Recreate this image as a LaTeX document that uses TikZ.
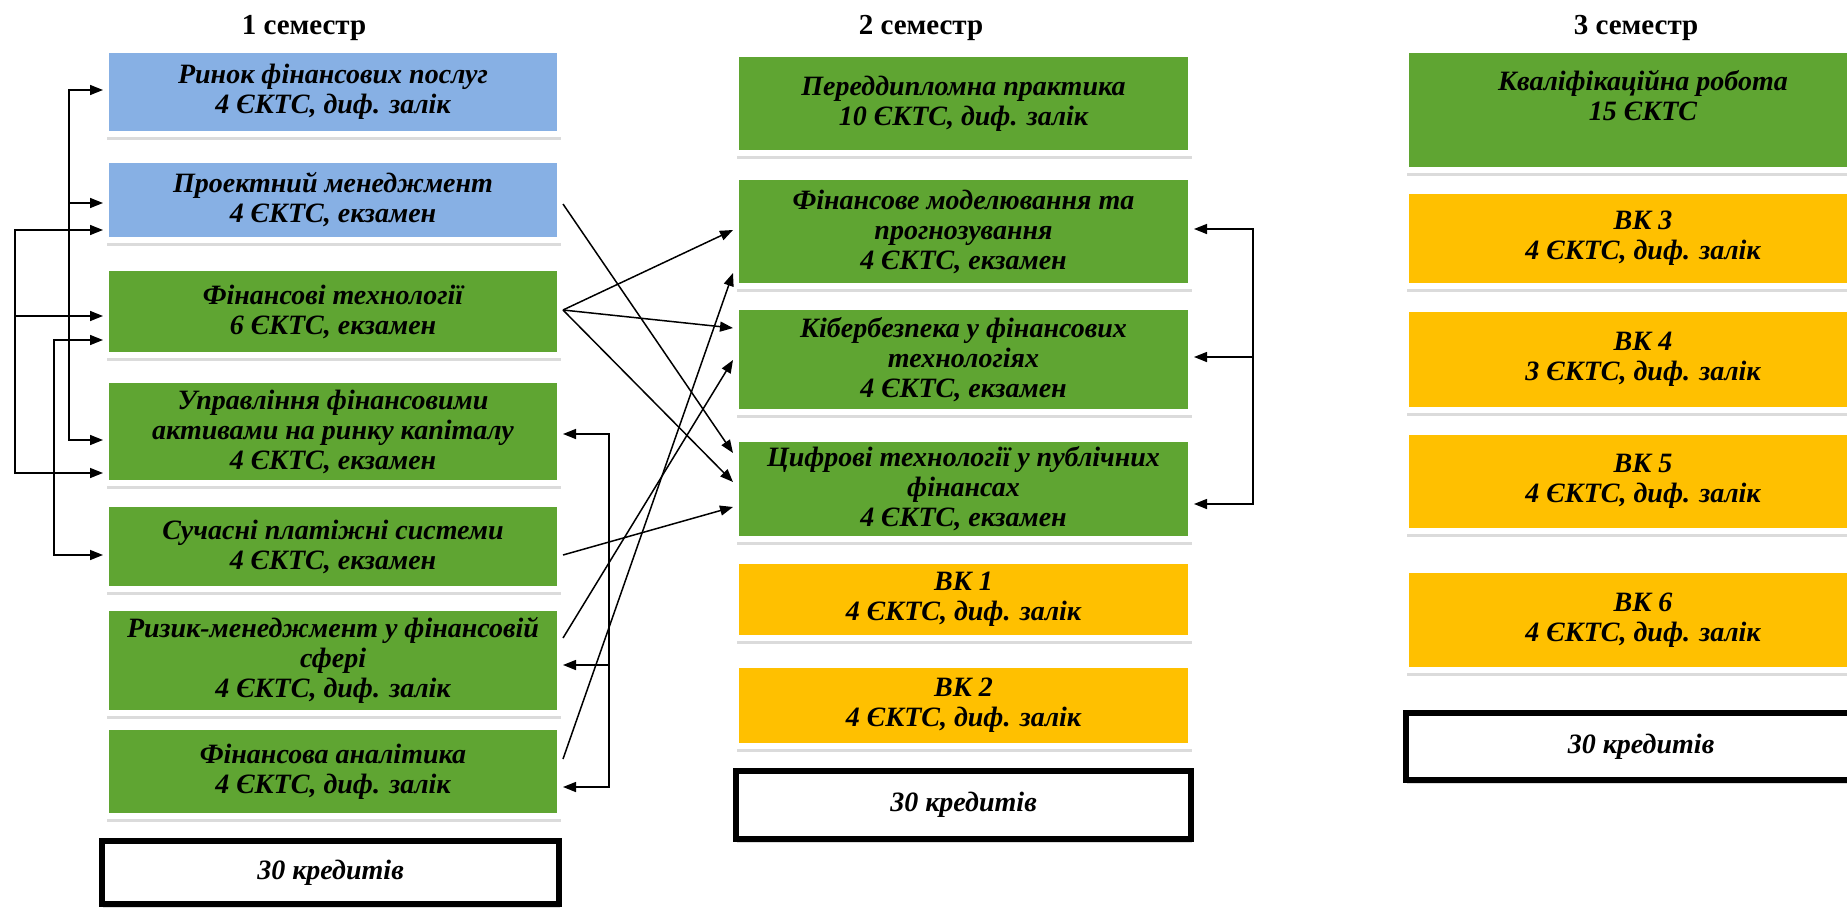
\documentclass[tikz,border=0pt]{standalone}
\usepackage{fontspec}
\setmainfont{Liberation Serif}
\usetikzlibrary{arrows.meta,shadows,calc}
\definecolor{cblue}{RGB}{135,176,228}
\definecolor{cgreen}{RGB}{95,165,50}
\definecolor{cgold}{RGB}{255,192,0}
\begin{document}
\begin{tikzpicture}[x=1pt,y=-1pt,
  txt/.style={font=\fontsize{28}{30}\selectfont\bfseries\itshape},
  bx/.style n args={2}{txt, draw=white, line width=6pt, inner sep=0pt, align=center,
    minimum width=#1+6, minimum height=#2+6,
    drop shadow={shadow xshift=1pt, shadow yshift=-6pt, fill=black!40, opacity=0.35}},
  cred/.style n args={2}{txt, draw=black, fill=white, line width=6pt, inner sep=0pt, align=center,
    minimum width=#1-6, minimum height=#2-6,
    drop shadow={shadow xshift=1pt, shadow yshift=-4pt, fill=black!40, opacity=0.35}},
  title/.style={font=\fontsize{29}{30}\selectfont\bfseries},
  arr/.style={line width=1.5pt, -{Triangle[length=13pt,width=10pt]}},
  arrs/.style={line width=1.5pt, {Triangle[length=13pt,width=10pt]}-{Triangle[length=13pt,width=10pt]}}
]
\useasboundingbox (0,0) rectangle (1847,910);
\begin{scope}
\clip (0,0) rectangle (1847,910);
\fill[white] (0,0) rectangle (1847,910);

% titles
\node[title] (T1) at (304,28) {1 семестр};
\node[title] (T2) at (921,28) {2 семестр};
\node[title] (T3) at (1636,28) {3 семестр};

% column 1
\node[bx={448}{78}, fill=cblue] (A1) at (333,92) {Ринок фінансових послуг\\4 ЄКТС, диф. залік};
\node[bx={448}{74}, fill=cblue] (A2) at (333,200) {Проектний менеджмент\\4 ЄКТС, екзамен};
\node[bx={448}{81}, fill=cgreen] (A3) at (333,311.5) {Фінансові технології\\6 ЄКТС, екзамен};
\node[bx={448}{97}, fill=cgreen] (A4) at (333,431.5) {Управління фінансовими\\активами на ринку капіталу\\4 ЄКТС, екзамен};
\node[bx={448}{79}, fill=cgreen] (A5) at (333,546.5) {Сучасні платіжні системи\\4 ЄКТС, екзамен};
\node[bx={448}{99}, fill=cgreen] (A6) at (333,660.5) {Ризик-менеджмент у фінансовій\\сфері\\4 ЄКТС, диф. залік};
\node[bx={448}{83}, fill=cgreen] (A7) at (333,771.5) {Фінансова аналітика\\4 ЄКТС, диф. залік};
\node[cred={463}{69}] (K1) at (330.5,872.5) {30 кредитів};

% column 2
\node[bx={449}{93}, fill=cgreen] (B1) at (963.5,103.5) {Переддипломна практика\\10 ЄКТС, диф. залік};
\node[bx={449}{103}, fill=cgreen] (B2) at (963.5,231.5) {Фінансове моделювання та\\прогнозування\\4 ЄКТС, екзамен};
\node[bx={449}{99}, fill=cgreen] (B3) at (963.5,359.5) {Кібербезпека у фінансових\\технологіях\\4 ЄКТС, екзамен};
\node[bx={449}{94}, fill=cgreen] (B4) at (963.5,489) {Цифрові технології у публічних\\фінансах\\4 ЄКТС, екзамен};
\node[bx={449}{71}, fill=cgold] (B5) at (963.5,599.5) {ВК 1\\4 ЄКТС, диф. залік};
\node[bx={449}{75}, fill=cgold] (B6) at (963.5,705.5) {ВК 2\\4 ЄКТС, диф. залік};
\node[cred={461}{74}] (K2) at (963.5,805) {30 кредитів};

% column 3
\node[bx={468}{114}, fill=cgreen] (C1) at (1643,110) {Кваліфікаційна робота\\15 ЄКТС\\\mbox{}};
\node[bx={468}{89}, fill=cgold] (C2) at (1643,238.5) {ВК 3\\4 ЄКТС, диф. залік};
\node[bx={468}{95}, fill=cgold] (C3) at (1643,359.5) {ВК 4\\3 ЄКТС, диф. залік};
\node[bx={468}{93}, fill=cgold] (C4) at (1643,481.5) {ВК 5\\4 ЄКТС, диф. залік};
\node[bx={468}{94}, fill=cgold] (C5) at (1643,620) {ВК 6\\4 ЄКТС, диф. залік};
\node[cred={476}{73}] (K3) at (1641,746.5) {30 кредитів};

% left brackets of column 1
\coordinate (L1t) at (69,90);
\coordinate (L1m) at (69,203);
\coordinate (L1b) at (69,440);
\draw[arrs] (A1.west |- L1t) -- (L1t) -- (L1b) -- (A4.west |- L1b);
\draw[arr] (L1m) -- (A2.west |- L1m);

\coordinate (L2t) at (15,230);
\coordinate (L2m) at (15,316);
\coordinate (L2b) at (15,473);
\draw[arrs] (A2.west |- L2t) -- (L2t) -- (L2b) -- (A4.west |- L2b);
\draw[arr] (L2m) -- (A3.west |- L2m);

\coordinate (L3t) at (54,340);
\coordinate (L3b) at (54,555);
\draw[arrs] (A3.west |- L3t) -- (L3t) -- (L3b) -- (A5.west |- L3b);

% right bracket of column 1
\coordinate (R1t) at (609,434);
\coordinate (R1m) at (609,665);
\coordinate (R1b) at (609,787);
\draw[arrs] (A4.east |- R1t) -- (R1t) -- (R1b) -- (A7.east |- R1b);
\draw[arr] (R1m) -- (A6.east |- R1m);

% right bracket of column 2
\coordinate (R2t) at (1253,229);
\coordinate (R2m) at (1253,357);
\coordinate (R2b) at (1253,504);
\draw[arrs] (B2.east |- R2t) -- (R2t) -- (R2b) -- (B4.east |- R2b);
\draw[arr] (R2m) -- (B3.east |- R2m);

% links from column 1 to column 2
\draw[arr] ($(A2.east)+(0,4)$) -- ($(B4.west)+(0,-36)$);
\draw[arr] ($(A3.east)+(0,-1.5)$) -- ($(B2.west)+(0,-1.5)$);
\draw[arr] ($(A3.east)+(0,-1.5)$) -- ($(B3.west)+(0,-31.5)$);
\draw[arr] ($(A3.east)+(0,-1.5)$) -- ($(B4.west)+(0,-7)$);
\draw[arr] ($(A5.east)+(0,8.5)$) -- ($(B4.west)+(0,18)$);
\draw[arr] ($(A6.east)+(0,-22.5)$) -- ($(B3.west)+(0,0.5)$);
\draw[arr] ($(A7.east)+(0,-12.5)$) -- ($(B2.west)+(0,41.5)$);
\end{scope}
\end{tikzpicture}
\end{document}
